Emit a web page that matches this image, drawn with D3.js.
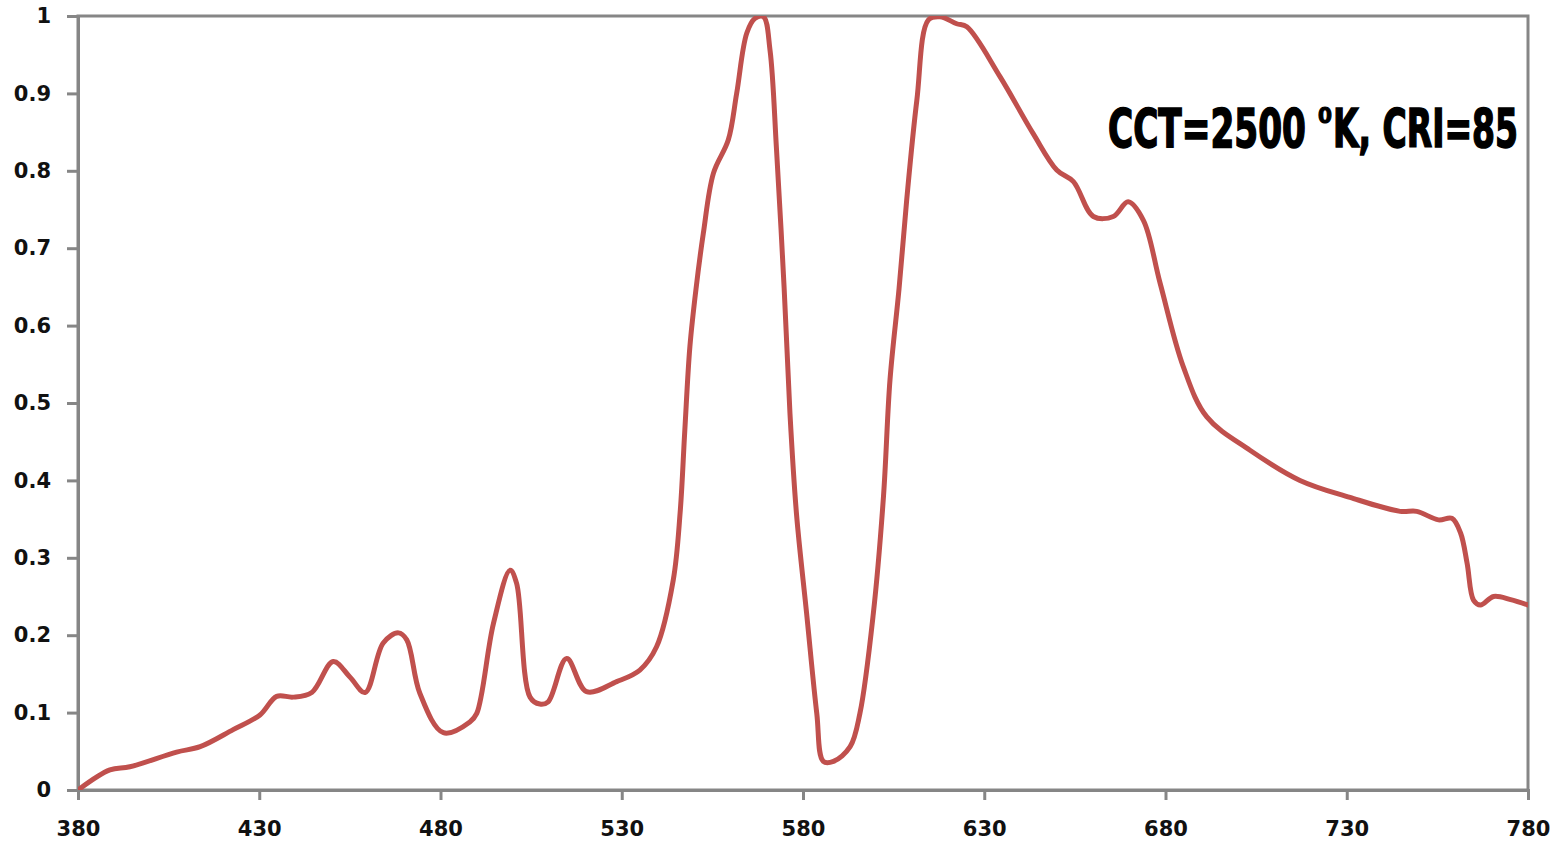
<!DOCTYPE html>
<html>
<head>
<meta charset="utf-8">
<script src="https://cdn.jsdelivr.net/npm/d3@7"></script>
<style>
  body { margin: 0; background: #fff; }
  svg { display: block; }
</style>
</head>
<body>
<svg id="chart"></svg>
<script>
// Spectrum (wavelength in nm, relative power)
const wavelengths = [
  380, 388.8, 394.3, 407.2, 413.7, 422.8, 430.2, 434.8, 439.3, 444.5,
  450.4, 455, 459.2, 464.2, 468.4, 470.7, 474.3, 480.8, 488.1, 490,
  494.6, 499.2, 501, 504.7, 507.4, 509.7, 514.8, 520.3, 528.6, 535,
  539.6, 544.2, 546.1, 547.4, 548.8, 550.5, 552.5, 555.3, 559.4, 561.7,
  564.5, 566.8, 569.1, 570.9, 572.7, 574.8, 576.4, 578.2, 581, 583.8,
  585.6, 588.4, 593, 595.7, 599.4, 602.2, 604, 606.5, 608.6, 611.4,
  614.6, 617.8, 622.4, 625.2, 634.3, 643.5, 650, 654.6, 660.1, 665.6,
  669.7, 673.9, 678.5, 684.9, 691.4, 703.3, 717.1, 730.9, 744.7, 749.3,
  755.3, 759, 761.4, 763.2, 765, 766.9, 770.5, 775.2, 780
];
const values = [
  0, 0.026, 0.030, 0.049, 0.056, 0.078, 0.097, 0.121, 0.120, 0.126,
  0.166, 0.146, 0.126, 0.190, 0.203, 0.194, 0.125, 0.074, 0.088, 0.099,
  0.215, 0.284, 0.267, 0.120, 0.111, 0.114, 0.170, 0.127, 0.140, 0.155,
  0.185, 0.271, 0.358, 0.465, 0.573, 0.648, 0.719, 0.797, 0.840, 0.900,
  0.978, 0.997, 0.999, 0.956, 0.827, 0.648, 0.487, 0.357, 0.228, 0.099,
  0.037, 0.037, 0.056, 0.099, 0.228, 0.379, 0.530, 0.648, 0.762, 0.891,
  0.995, 0.999, 0.990, 0.986, 0.922, 0.848, 0.801, 0.786, 0.741, 0.741,
  0.760, 0.736, 0.655, 0.547, 0.482, 0.439, 0.400, 0.378, 0.360, 0.360,
  0.349, 0.351, 0.332, 0.293, 0.245, 0.239, 0.250, 0.246, 0.239
];
const xTicks = [380, 430, 480, 530, 580, 630, 680, 730, 780];
const yTicks = [0, 0.1, 0.2, 0.3, 0.4, 0.5, 0.6, 0.7, 0.8, 0.9, 1];
const annotationParts = ['CCT=2500', '0', 'K, CRI=85'];

const width = 1561;
const height = 843;
const margin = { top: 16, right: 33, bottom: 53, left: 78 };
const axisColor = '#868686';

const svg = d3.select('#chart')
  .attr('width', width)
  .attr('height', height);

const x = d3.scaleLinear()
  .domain([380, 780])
  .range([margin.left, width - margin.right]);

const y = d3.scaleLinear()
  .domain([0, 1])
  .range([height - margin.bottom, margin.top]);

// Clip so the peaks stop at the frame
svg.append('clipPath')
  .attr('id', 'plot-clip')
  .append('rect')
  .attr('x', margin.left)
  .attr('y', margin.top)
  .attr('width', width - margin.left - margin.right)
  .attr('height', height - margin.top - margin.bottom);

// Frame
svg.append('rect')
  .attr('x', margin.left)
  .attr('y', margin.top)
  .attr('width', width - margin.left - margin.right)
  .attr('height', height - margin.top - margin.bottom)
  .attr('fill', 'none')
  .attr('stroke', axisColor)
  .attr('stroke-width', 3);

// Y axis
const yAxis = svg.append('g')
  .attr('transform', `translate(${margin.left},0)`)
  .call(d3.axisLeft(y).tickValues(yTicks).tickSize(11).tickPadding(16)
    .tickFormat(d => d3.format('')(+d.toFixed(1))));

// X axis
const xAxis = svg.append('g')
  .attr('transform', `translate(0,${height - margin.bottom})`)
  .call(d3.axisBottom(x).tickValues(xTicks).tickSize(10).tickPadding(21));

[yAxis, xAxis].forEach(g => {
  g.select('.domain').attr('stroke', axisColor).attr('stroke-width', 3);
  g.selectAll('.tick line').attr('stroke', axisColor).attr('stroke-width', 3);
  g.selectAll('.tick text')
    .attr('fill', '#111')
    .style('font-family', '"DejaVu Sans", Verdana, sans-serif')
    .style('font-weight', 'bold')
    .style('font-size', '21px');
});

// Spectrum line
const points = wavelengths.map((w, i) => [w, values[i]]);
const line = d3.line()
  .x(d => x(d[0]))
  .y(d => y(d[1]))
  .curve(d3.curveCatmullRom.alpha(0.5));

svg.append('path')
  .datum(points)
  .attr('clip-path', 'url(#plot-clip)')
  .attr('d', line)
  .attr('fill', 'none')
  .attr('stroke', '#C0504D')
  .attr('stroke-width', 5)
  .attr('stroke-linejoin', 'round')
  .attr('stroke-linecap', 'round');

// Annotation: three pieces, the middle one raised like a superscript
const annoFont = '"Liberation Sans Narrow", "DejaVu Sans Condensed", sans-serif';
const anno = svg.append('g');
const partX = [1108, 1318, 1333];
const partRight = [1306, 1332, 1518];
const partY = [147, 123, 147];
const partSize = [54, 22, 54];

annotationParts.forEach((t, i) => {
  const txt = anno.append('text')
    .attr('x', partX[i])
    .attr('y', partY[i])
    .attr('fill', '#000')
    .attr('stroke', '#000')
    .attr('stroke-width', i === 1 ? 1 : 1.6)
    .style('font-family', annoFont)
    .style('font-weight', 'bold')
    .style('font-size', partSize[i] + 'px')
    .text(t);
  // squeeze each piece to the width it has in the picture
  const w = txt.node().getComputedTextLength();
  const target = partRight[i] - partX[i];
  const k = target / w;
  txt.attr('transform', `translate(${partX[i]},0) scale(${k},1) translate(${-partX[i]},0)`);
});
</script>
</body>
</html>
